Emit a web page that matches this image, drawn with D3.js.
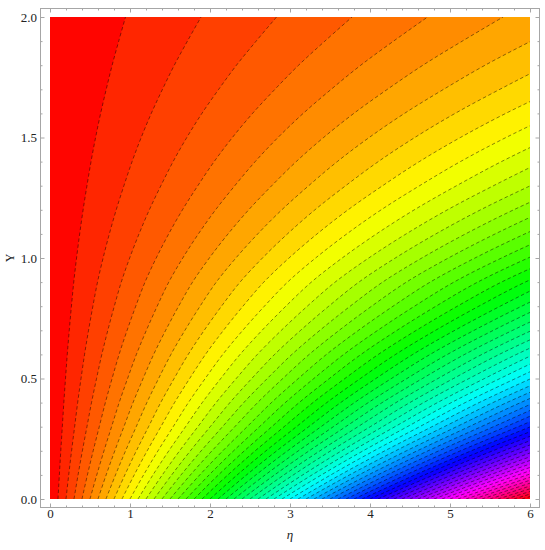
<!DOCTYPE html>
<html>
<head>
<meta charset="utf-8">
<script src="https://cdnjs.cloudflare.com/ajax/libs/d3/7.8.5/d3.min.js"></script>
<style>
html, body { margin: 0; padding: 0; background: #fff; }
svg { display: block; }
text { font-family: "Liberation Serif", serif; fill: #222; }
.tick line { stroke: #a6a6a6; stroke-width: 1; }
</style>
</head>
<body>
<svg width="545" height="550"></svg>
<script>
// where each contour meets the bottom edge (eta at Y = 0)
const levels = [0.1, 0.2, 0.3, 0.4, 0.5, 0.6, 0.7, 0.8, 0.9, 1.0,
    1.1, 1.2, 1.3, 1.4, 1.5, 1.6, 1.7, 1.8, 1.9, 2.0,
    2.1, 2.2, 2.3, 2.4, 2.5, 2.6, 2.7, 2.8, 2.9, 3.0,
    3.1, 3.2, 3.3, 3.4, 3.5, 3.6, 3.7, 3.8, 3.9, 4.0,
    4.1, 4.2, 4.3, 4.4, 4.5, 4.6, 4.7, 4.8, 4.9, 5.0,
    5.1, 5.2, 5.3, 5.4, 5.5, 5.6, 5.7, 5.8, 5.9];
// how far a contour has spread at each Y, read from the edge crossings
const yStops = [0, 0.1, 0.2, 0.3, 0.4, 0.5, 0.6, 0.7, 0.8, 0.9, 1.0,
    1.1, 1.2, 1.3, 1.4, 1.5, 1.6, 1.7, 1.8, 1.9, 2.0];
const spread = [1, 1.17, 1.35, 1.54, 1.73, 1.94, 2.16, 2.41, 2.68, 2.97, 3.32,
    3.71, 4.14, 4.62, 5.13, 5.7, 6.33, 7.03, 7.77, 8.59, 9.44];
const xMajor = [0, 1, 2, 3, 4, 5, 6];
const xMinor = [0.2, 0.4, 0.6, 0.8, 1.2, 1.4, 1.6, 1.8, 2.2, 2.4, 2.6, 2.8,
    3.2, 3.4, 3.6, 3.8, 4.2, 4.4, 4.6, 4.8, 5.2, 5.4, 5.6, 5.8];
const yMajor = [0, 0.5, 1, 1.5, 2];
const yMinor = [0.1, 0.2, 0.3, 0.4, 0.6, 0.7, 0.8, 0.9, 1.1, 1.2, 1.3, 1.4,
    1.6, 1.7, 1.8, 1.9];

const svg = d3.select("svg");
const frame = { left: 40, right: 540, top: 8, bottom: 508 };

// whole pixel ranges, half covered edge rows pile up over the 59 stacked bands
const x = d3.scaleLinear().domain([0, 6]).range([50, 530]);
const y = d3.scaleLinear().domain([0, 2]).range([499, 17]);

// band colour: hue runs once round the wheel over eta 0..6
const bandColor = eta => d3.hsl(eta / 6 * 360, 1, 0.5).formatHex();

svg.append("clipPath").attr("id", "plotClip")
    .append("rect")
    .attr("x", x(0)).attr("y", y(2))
    .attr("width", x(6) - x(0)).attr("height", y(0) - y(2));

const plot = svg.append("g").attr("clip-path", "url(#plotClip)");

plot.append("rect")
    .attr("x", x(0)).attr("y", y(2))
    .attr("width", x(6) - x(0)).attr("height", y(0) - y(2))
    .attr("fill", bandColor(0.02));

const area = d3.area()
    .y(d => y(d))
    .x0((d, i, all) => x(all.level * spread[i]))
    .x1(x(6) + 5)
    .curve(d3.curveCatmullRom);

const contourLine = d3.line()
    .x((d, i, all) => x(all.level * spread[i]))
    .y(d => y(d))
    .curve(d3.curveCatmullRom);

levels.forEach(level => {
    const stops = yStops.slice();
    stops.level = level;
    plot.append("path")
        .attr("d", area(stops))
        .attr("fill", bandColor(level + 0.05));
});

levels.forEach(level => {
    const stops = yStops.slice();
    stops.level = level;
    plot.append("path")
        .attr("d", contourLine(stops))
        .attr("fill", "none")
        .attr("stroke", "#000")
        .attr("stroke-opacity", 0.55)
        .attr("stroke-width", 0.85)
        .attr("stroke-dasharray", "3.5 2.5");
});

svg.append("rect")
    .attr("x", frame.left + 0.5).attr("y", frame.top + 0.5)
    .attr("width", frame.right - frame.left - 1)
    .attr("height", frame.bottom - frame.top - 1)
    .attr("fill", "none")
    .attr("stroke", "#a6a6a6");

function addAxis(axis, transform, labelled) {
    const g = svg.append("g").attr("transform", transform).call(axis);
    g.select(".domain").remove();
    g.selectAll("text").style("font-size", "13px");
    if (!labelled) g.selectAll("text").remove();
}

const blank = () => "";

addAxis(d3.axisBottom(x).tickValues(xMajor).tickSize(-4.5).tickPadding(1).tickFormat(d3.format("d")),
    `translate(0,${frame.bottom})`, true);
addAxis(d3.axisBottom(x).tickValues(xMinor).tickSize(-2.5).tickFormat(blank),
    `translate(0,${frame.bottom})`, false);
addAxis(d3.axisTop(x).tickValues(xMajor).tickSize(-4.5).tickFormat(blank),
    `translate(0,${frame.top})`, false);
addAxis(d3.axisTop(x).tickValues(xMinor).tickSize(-2.5).tickFormat(blank),
    `translate(0,${frame.top})`, false);
addAxis(d3.axisLeft(y).tickValues(yMajor).tickSize(-4.5).tickPadding(3).tickFormat(d3.format(".1f")),
    `translate(${frame.left},0)`, true);
addAxis(d3.axisLeft(y).tickValues(yMinor).tickSize(-2.5).tickFormat(blank),
    `translate(${frame.left},0)`, false);
addAxis(d3.axisRight(y).tickValues(yMajor).tickSize(-4.5).tickFormat(blank),
    `translate(${frame.right},0)`, false);
addAxis(d3.axisRight(y).tickValues(yMinor).tickSize(-2.5).tickFormat(blank),
    `translate(${frame.right},0)`, false);

svg.append("text")
    .attr("x", 290).attr("y", 539)
    .attr("text-anchor", "middle")
    .style("font-size", "13px")
    .style("font-style", "italic")
    .text("η");

svg.append("text")
    .attr("transform", "translate(14,258) rotate(-90)")
    .attr("text-anchor", "middle")
    .style("font-size", "12px")
    .text("Y");
</script>
</body>
</html>
